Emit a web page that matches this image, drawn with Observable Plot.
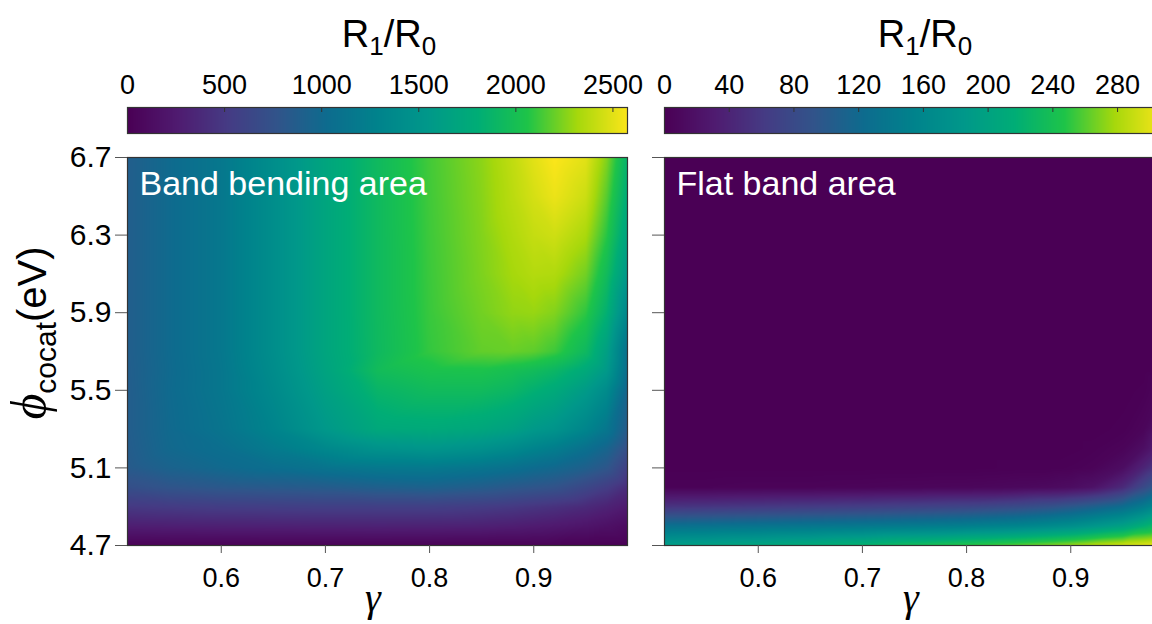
<!DOCTYPE html>
<html><head><meta charset="utf-8">
<script src="https://cdn.jsdelivr.net/npm/d3@7"></script>
<script src="https://cdn.jsdelivr.net/npm/@observablehq/plot@0.6"></script>
<style>
html,body{margin:0;padding:0;background:#fff;overflow:hidden;width:1152px;height:624px;}
#root{position:relative;width:1152px;height:624px;overflow:hidden;font-family:"Liberation Sans",Arial,sans-serif;color:#000;}
.abs{position:absolute;}
.title{font-size:38px;line-height:38px;white-space:nowrap;transform:translateX(-50%);}
.title sub{font-size:26px;vertical-align:-0.32em;line-height:0;}
.gam{font-family:"Liberation Serif","DejaVu Serif",serif;font-style:italic;font-size:40px;line-height:40px;transform:translateX(-50%);}
.ylab{white-space:nowrap;font-size:40px;line-height:46px;transform:translate(-50%,-50%) rotate(-90deg);}
.ylab .phi{font-family:"Liberation Serif","DejaVu Serif",serif;font-style:italic;font-size:50px;}
.ylab sub{font-size:30px;vertical-align:-0.35em;line-height:0;}
</style></head><body><div id="root"></div>
<script>
// ---- data ----
const gammas = [0.51, 0.55, 0.6, 0.65, 0.7, 0.75, 0.8, 0.85, 0.88, 0.9, 0.92, 0.95, 0.97, 0.99];
const phis   = [6.7, 6.5, 6.3, 6.1, 5.9, 5.7, 5.6, 5.5, 5.3, 5.2, 5.1, 5.0, 4.9, 4.8, 4.7];
// R1/R0, band bending area (rows follow phis, columns follow gammas)
const bandBending = [
  [880,1010,1160,1420,1700,1935,2130,2270,2400,2500,2580,2500,2250,1860],
  [880,1010,1160,1420,1700,1935,2125,2260,2380,2460,2530,2430,2170,1780],
  [880,1010,1160,1420,1700,1935,2120,2250,2350,2410,2440,2330,2080,1680],
  [880,1010,1160,1420,1700,1935,2115,2240,2320,2360,2350,2220,1960,1540],
  [880,1010,1160,1420,1700,1935,2110,2220,2280,2290,2250,2090,1830,1330],
  [880,1010,1160,1420,1700,1930,2100,2190,2200,2180,2120,1930,1640,1080],
  [875,1005,1150,1400,1680,1960,2030,2040,2000,1960,1900,1750,1560,1050],
  [870,1010,1150,1370,1640,1880,1950,1950,1900,1830,1760,1580,1390,960],
  [870,1000,1120,1300,1550,1740,1760,1720,1650,1560,1500,1320,1150,850],
  [860,990,1060,1200,1350,1480,1520,1460,1380,1300,1230,1080,960,720],
  [840,930,1000,1060,1120,1170,1180,1130,1080,1030,990,900,800,560],
  [720,780,820,840,860,900,920,870,820,790,760,640,540,400],
  [500,520,540,550,560,560,560,530,500,470,440,380,320,250],
  [280,290,300,305,310,315,310,300,280,260,240,200,160,110],
  [20,20,20,20,20,20,20,20,20,20,20,15,10,10]
];
// R1/R0, flat band area
const flatBand = [
  [0,0,0,0,0,0,0,0,0,0,0,0,0,0],
  [0,0,0,0,0,0,0,0,0,0,0,0,0,0],
  [0,0,0,0,0,0,0,0,0,0,0,0,0,0],
  [0,0,0,0,0,0,0,0,0,0,0,0,0,0],
  [0,0,0,0,0,0,0,0,0,0,0,0,0,0],
  [0,0,0,0,0,0,0,0,0,0,0,0,0,0],
  [0,0,0,0,0,0,0,0,0,0,0,0,0,2],
  [0,0,0,0,0,0,0,0,0,0,0,0,1,8],
  [0,0,0,0,0,0,0,0,0,0,0,1,6,25],
  [0,0,0,0,0,0,0,0,0,0,1,5,16,42],
  [0,0,0,0,0,0,0,1,1,2,4,15,40,70],
  [3,3,4,4,5,6,7,9,11,14,20,45,80,115],
  [55,57,60,63,66,70,74,82,90,98,108,125,145,175],
  [130,132,135,138,141,145,150,158,166,172,182,198,218,240],
  [195,200,207,215,225,238,250,262,270,276,284,294,300,308]
];
const leftMax = 2575;
const rightMax = 309;
const leftBarTicks = [0, 500, 1000, 1500, 2000, 2500];
const rightBarTicks = [0, 40, 80, 120, 160, 200, 240, 280];
const gammaTicks = [0.6, 0.7, 0.8, 0.9];
const phiTicks = [4.7, 5.1, 5.5, 5.9, 6.3, 6.7];
const panelLabels = ["Band bending area", "Flat band area"];

// ---- styles ----
const colorStops = ["#4a0055","#4f1b70","#453b84","#31548a","#0d6c8e","#00838c","#00988a","#00ad76","#1ec449","#a6d80c","#fbe51a"];
const cmap = d3.piecewise(d3.interpolateRgb, colorStops);
const FONT = '"Liberation Sans", Arial, sans-serif';
const baseStyle = {fontFamily: FONT, fontSize: "27px", background: "transparent", overflow: "visible", maxWidth: "none", color: "#000"};

function colorbar(max, ticks) {
  return Plot.plot({
    width: 647, height: 140, marginLeft: 127, marginRight: 20, marginTop: 107, marginBottom: 7,
    style: baseStyle,
    x: {domain: [0, max]},
    y: {domain: [0, 1], axis: null},
    color: {type: "linear", domain: [0, max], interpolate: cmap, clamp: true},
    marks: [
      Plot.raster({x1: 0, x2: max, y1: 0, y2: 1, width: 500, height: 1, fill: (x, y) => x}),
      Plot.tickX(ticks, {x: d => d, stroke: "#333", insetBottom: 21}),
      Plot.frame({stroke: "#333", strokeWidth: 1.2}),
      Plot.axisX({anchor: "top", ticks, tickFormat: d => String(d), tickSize: 0, tickPadding: 14, label: null, fontSize: 27})
    ]
  });
}

function heatmap(values, max, label, showY) {
  const data = [];
  phis.forEach((p, i) => gammas.forEach((g, j) => data.push({g, p, v: values[i][j]})));
  return Plot.plot({
    width: 647, height: 484, marginLeft: 127, marginRight: 20, marginTop: 17, marginBottom: 79,
    style: baseStyle,
    x: {domain: [0.51, 0.99]},
    y: {domain: [4.7, 6.7]},
    color: {type: "linear", domain: [0, max], interpolate: cmap, clamp: true},
    marks: [
      Plot.raster(data, {x: "g", y: "p", fill: "v", interpolate: "barycentric", x1: 0.51, x2: 0.99, y1: 4.7, y2: 6.7}),
      Plot.frame({stroke: "#333", strokeWidth: 1.2}),
      Plot.axisX({ticks: gammaTicks, tickFormat: ".1f", tickSize: 8, tickPadding: 14, label: null, stroke: "#555", fontSize: 27}),
      Plot.axisY({ticks: phiTicks, tickFormat: showY ? ".1f" : () => "", tickSize: 12, tickPadding: 4, label: null, stroke: "#555", fontSize: 30}),
      Plot.text([label], {text: d => d, frameAnchor: "top-left", dx: 12, dy: 13, lineAnchor: "top", fill: "white", fontSize: 34})
    ]
  });
}

const root = document.getElementById("root");
function place(el, left, top, width) {
  const d = document.createElement("div");
  d.className = "abs";
  d.style.left = left + "px"; d.style.top = top + "px";
  if (width) d.style.width = width + "px";
  d.appendChild(el);
  root.appendChild(d);
  return d;
}
place(colorbar(leftMax, leftBarTicks), 0, 0, 647);
place(colorbar(rightMax, rightBarTicks), 537, 0, 647);
place(heatmap(bandBending, leftMax, panelLabels[0], true), 0, 140, 647);
place(heatmap(flatBand, rightMax, panelLabels[1], false), 537, 140, 647);

function html(cls, inner, left, top) {
  const d = document.createElement("div");
  d.className = "abs " + cls;
  d.innerHTML = inner;
  d.style.left = left + "px"; d.style.top = top + "px";
  root.appendChild(d);
}
html("title", "R<sub>1</sub>/R<sub>0</sub>", 389, 15);
html("title", "R<sub>1</sub>/R<sub>0</sub>", 925, 15);
html("gam", "γ", 373, 578);
html("gam", "γ", 911, 578);
html("ylab", '<span class="phi">ϕ</span><sub>cocat</sub>(eV)', 30, 333);
</script></body></html>
